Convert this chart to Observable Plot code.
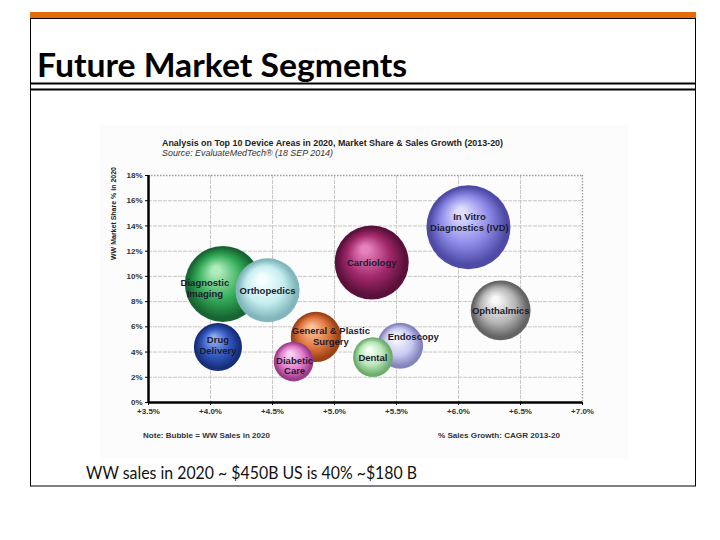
<!DOCTYPE html>
<html><head><meta charset="utf-8">
<script src="https://cdn.jsdelivr.net/npm/d3@7"></script>
<script src="https://cdn.jsdelivr.net/npm/@observablehq/plot@0.6"></script>
<style>
html,body{margin:0;padding:0;background:#fff;width:720px;height:540px;overflow:hidden;}
#slide{position:absolute;left:0;top:0;}
#chart{position:absolute;left:100px;top:165px;}
#defs{position:absolute;left:0;top:0;width:0;height:0;}
.narrow{font-family:"Liberation Sans",Arial,sans-serif;}
</style></head><body>
<svg id="defs" width="0" height="0"><defs id="gradDefs"></defs></svg>
<svg id="slide" width="720" height="540">
  <rect x="100" y="125" width="528" height="333" fill="#fcfcfc"/>
  <rect x="30.5" y="12.5" width="665" height="473.5" fill="none" stroke="#000" stroke-width="1"/>
  <rect x="30" y="12" width="666" height="6" fill="#e46c0a"/>
  <line x1="30" x2="696" y1="18.5" y2="18.5" stroke="#000" stroke-width="1"/>
  <text x="37" y="77" font-family="Lato, 'Open Sans', sans-serif" font-weight="bold" font-size="33" textLength="370" lengthAdjust="spacingAndGlyphs" fill="#000">Future Market Segments</text>
  <line x1="30" x2="696" y1="83.5" y2="83.5" stroke="#000" stroke-width="2"/>
  <line x1="30" x2="696" y1="89.5" y2="89.5" stroke="#000" stroke-width="2"/>
  <text class="narrow" x="162" y="145.5" font-weight="bold" font-size="9.5" fill="#222" textLength="341" lengthAdjust="spacingAndGlyphs">Analysis on Top 10 Device Areas in 2020, Market Share &amp; Sales Growth (2013-20)</text>
  <text class="narrow" x="162" y="156" font-style="italic" font-size="9" fill="#333" textLength="171" lengthAdjust="spacingAndGlyphs">Source: EvaluateMedTech® (18 SEP 2014)</text>
  <text class="narrow" transform="translate(116,167) rotate(-90)" text-anchor="end" font-weight="bold" font-size="8" fill="#222" textLength="93" lengthAdjust="spacingAndGlyphs">WW Market Share % in 2020</text>
  <text class="narrow" x="143" y="438" font-weight="bold" font-size="8" fill="#333" textLength="127" lengthAdjust="spacingAndGlyphs">Note: Bubble = WW Sales in 2020</text>
  <text class="narrow" x="438" y="437.5" font-weight="bold" font-size="8" fill="#333" textLength="122" lengthAdjust="spacingAndGlyphs">% Sales Growth: CAGR 2013-20</text>
  <text x="86" y="479" font-family="Lato, 'Open Sans', sans-serif" font-size="16.5" fill="#111" textLength="331" lengthAdjust="spacingAndGlyphs">WW sales in 2020 ~ $450B US is 40% ~$180 B</text>
</svg>
<div id="chart"></div>
<script>
// ---- data ----
const segments = ["Diagnostic Imaging", "Orthopedics", "Drug Delivery", "General & Plastic Surgery", "Diabetic Care", "Cardiology", "In Vitro Diagnostics (IVD)", "Ophthalmics", "Endoscopy", "Dental"];
const bubbleLabels = ["Diagnostic\nImaging", "Orthopedics", "Drug\nDelivery", "General & Plastic\nSurgery", "Diabetic\nCare", "Cardiology", "In Vitro\nDiagnostics (IVD)", "Ophthalmics", "Endoscopy", "Dental"];
const salesGrowth = [4.10, 4.46, 4.06, 4.85, 4.67, 5.30, 6.08, 6.34, 5.53, 5.31];   // % CAGR 2013-20
const marketShare = [9.4, 8.9, 4.4, 5.2, 3.25, 11.1, 13.9, 7.3, 4.5, 3.6];          // WW market share % 2020
const wwSales = [55, 39, 22, 24, 15, 52, 67, 34, 20, 15];                           // WW sales 2020 ($B, bubble size)
const xTicks = [3.5, 4.0, 4.5, 5.0, 5.5, 6.0, 6.5, 7.0];
const yTicks = [0, 2, 4, 6, 8, 10, 12, 14, 16, 18];

// ---- style (not data) ----
const palette = [
  ["#b0ecbc", "#34ac58", "#176632"],
  ["#f6ffff", "#c6eeef", "#80b6bc"],
  ["#90acf0", "#3056be", "#172e78"],
  ["#f8c4a0", "#e2783e", "#9c4216"],
  ["#fad4f2", "#e27ecb", "#9c3c88"],
  ["#e682bc", "#a0286a", "#5a103a"],
  ["#e0deff", "#8e8ae8", "#4e4aa6"],
  ["#f8f8f8", "#b6b6b6", "#646464"],
  ["#f8f8ff", "#cacaf2", "#8484bc"],
  ["#f2fff2", "#b8e6b8", "#6eac6e"]
];
const labelNudges = [
  {names: ["Diagnostic Imaging"], dx: -18, dy: 4},
  {names: ["General & Plastic Surgery"], dx: 15, dy: -1},
  {names: ["Diabetic Care"], dx: 1, dy: 4},
  {names: ["In Vitro Diagnostics (IVD)"], dx: 1, dy: -5},
  {names: ["Endoscopy"], dx: 13, dy: -9},
  {names: ["Drug Delivery"], dx: 0, dy: -2},
  {names: ["Orthopedics", "Cardiology", "Ophthalmics", "Dental"], dx: 0, dy: 0}
];

// gradients
const defs = d3.select("#gradDefs");
const gradUrls = segments.map((s, i) => {
  const id = "sphere" + i;
  const g = defs.append("radialGradient").attr("id", id)
    .attr("cx", "50%").attr("cy", "50%").attr("r", "50%").attr("fx", "40%").attr("fy", "30%");
  const [light, base, dark] = palette[i];
  g.append("stop").attr("offset", "0%").attr("stop-color", light);
  g.append("stop").attr("offset", "10%").attr("stop-color", light);
  g.append("stop").attr("offset", "58%").attr("stop-color", base);
  g.append("stop").attr("offset", "92%").attr("stop-color", dark);
  g.append("stop").attr("offset", "100%").attr("stop-color", dark);
  return `url(#${id})`;
});

const rows = segments.map((name, i) => ({
  name, label: bubbleLabels[i], growth: salesGrowth[i], share: marketShare[i], sales: wwSales[i]
}));

const labelFont = {fontSize: 9.5, fontWeight: "bold", fill: "#1c1c2e", lineHeight: 1.12};

const chart = Plot.plot({
  width: 528,
  height: 260,
  marginLeft: 48,
  marginRight: 46,
  marginTop: 10,
  marginBottom: 23,
  style: {
    fontFamily: "'Liberation Sans',Arial,sans-serif",
    fontSize: "8px",
    fontWeight: "bold",
    color: "#222",
    background: "transparent",
    overflow: "visible"
  },
  x: {domain: [3.5, 7.0], label: null},
  y: {domain: [0, 18], label: null},
  r: {type: "sqrt", domain: [0, 67], range: [0, 42]},
  color: {type: "ordinal", domain: segments, range: gradUrls},
  marks: [
    Plot.gridY(yTicks.slice(1, -1), {stroke: "#c8c8c8", strokeOpacity: 1, strokeDasharray: "4,1"}),
    Plot.gridX(xTicks.slice(1, -1), {stroke: "#c8c8c8", strokeOpacity: 1, strokeDasharray: "4,1"}),
    Plot.ruleY([yTicks[yTicks.length - 1]], {stroke: "#9a9a9a", strokeWidth: 1.3, strokeDasharray: "1.5,1.5"}),
    Plot.ruleX([xTicks[xTicks.length - 1]], {stroke: "#9a9a9a", strokeWidth: 1.3, strokeDasharray: "1.5,1.5"}),
    Plot.dot(rows, {x: "growth", y: "share", r: "sales", fill: "name", stroke: null, sort: null}),
    ...labelNudges.map(n => Plot.text(rows.filter(d => n.names.includes(d.name)), {
      x: "growth", y: "share", text: "label", dx: n.dx, dy: n.dy, ...labelFont
    })),
    Plot.axisX({ticks: xTicks, tickFormat: d => "+" + d.toFixed(1) + "%", tickSize: 3, tickPadding: 3, fill: "#333", stroke: "#000"}),
    Plot.axisY({ticks: yTicks, tickFormat: d => d + "%", tickSize: 3, tickPadding: 3, fill: "#333", stroke: "#000"}),
    Plot.ruleX([xTicks[0]], {stroke: "#000", strokeWidth: 2.5}),
    Plot.ruleY([yTicks[0]], {stroke: "#000", strokeWidth: 2.5})
  ]
});
document.getElementById("chart").appendChild(chart);
</script>
</body></html>
